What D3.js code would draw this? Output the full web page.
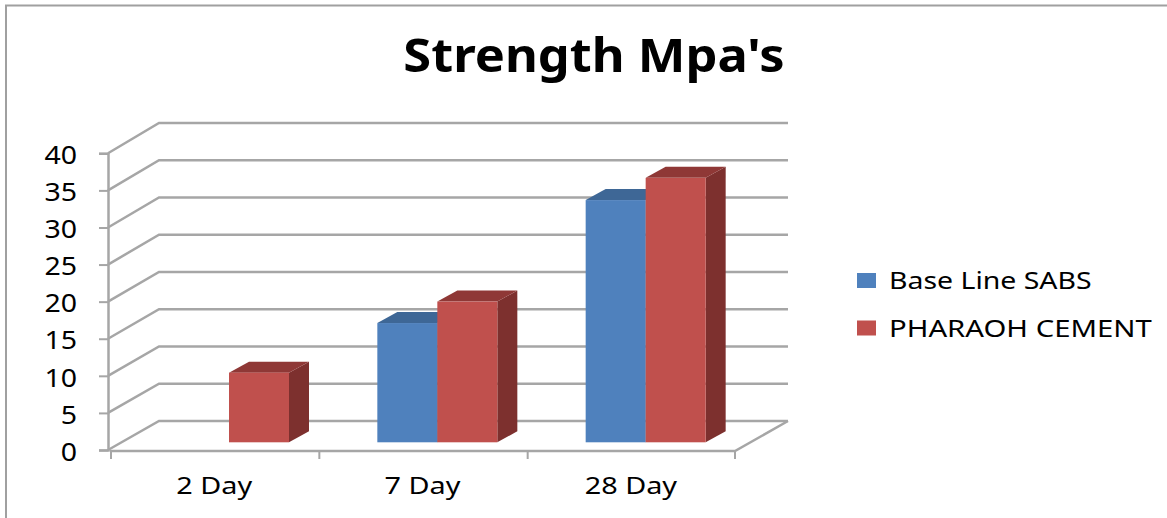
<!DOCTYPE html>
<html>
<head>
<meta charset="utf-8">
<script src="https://d3js.org/d3.v7.min.js"></script>
<style>
  body { margin: 0; background: #fff; }
  svg { display: block; }
  text { font-family: "Noto Sans", sans-serif; fill: #000; }
</style>
</head>
<body>
<div id="chart"></div>
<script>
// Chart data
const categories = ["2 Day", "7 Day", "28 Day"];
const seriesNames = ["Base Line SABS", "PHARAOH CEMENT"];
const baseLine = [null, 16.1, 32.7];
const pharaoh = [9.4, 19.0, 35.7];
const yTicks = [0, 5, 10, 15, 20, 25, 30, 35, 40];

const width = 1167;
const height = 518;

// Colours for face / top / side of each series
const faceColors = ["#4f81bd", "#c0504d"];
const topColors = ["#3e6796", "#8f3836"];
const sideColors = ["#395a84", "#7d302e"];
const gridColor = "#a6a6a6";

// Legend glyphs are stretched a little differently per label
const legendStretch = [1.185, 1.22];

const svg = d3.select("#chart").append("svg")
  .attr("width", width)
  .attr("height", height);

// The source picture has wider glyphs than the installed fonts
function stretch(selection, factor) {
  selection.each(function () {
    d3.select(this)
      .attr("textLength", this.getComputedTextLength() * factor)
      .attr("lengthAdjust", "spacingAndGlyphs");
  });
}

// Chart frame, only top and left edges are visible
svg.append("path")
  .attr("d", "M6,518V5.5H1167")
  .attr("fill", "none")
  .attr("stroke", "#a0a0a0")
  .attr("stroke-width", 2);

// Scales: front wall, back wall and the plane the bars stand on
const x = d3.scaleBand().domain(categories).range([111, 736]);
const xInner = d3.scaleBand().domain(seriesNames).range([58, 178]);
const y = d3.scaleLinear().domain([0, 40]).range([450, 153.3]);
const yBack = d3.scaleLinear().domain([0, 40]).range([421, 123]);
const yBar = d3.scaleLinear().domain([0, 40]).range([442.3, 146]);

const depthX = 20;
const depthY = 11;

// Grid lines: diagonal on the side wall, then across the back wall
const grid = svg.append("g")
  .attr("fill", "none")
  .attr("stroke", gridColor)
  .attr("stroke-width", 2.5);

grid.selectAll("path")
  .data(yTicks)
  .enter()
  .append("path")
  .attr("d", (d) => `M108,${y(d)}L159,${yBack(d)}H788`);

// Floor
grid.append("path")
  .attr("d", `M110,451H735L788,${yBack(0)}`);

// Y axis
const yAxis = svg.append("g")
  .attr("transform", "translate(108,0)")
  .call(d3.axisLeft(y).tickValues(yTicks).tickSize(9).tickPadding(21));
yAxis.select(".domain").attr("stroke", gridColor).attr("stroke-width", 2.5);
yAxis.selectAll("line").attr("stroke", gridColor).attr("stroke-width", 2);
yAxis.selectAll("text")
  .style("font-size", "25px")
  .attr("dy", "0.41em")
  .attr("text-anchor", "end")
  .attr("x", -31)
  .call(stretch, 1.14);

// X axis, labels from the axis and ticks on band edges
const xAxis = svg.append("g")
  .attr("transform", "translate(-1,451)")
  .call(d3.axisBottom(x).tickSize(0).tickPadding(26));
xAxis.select(".domain").remove();
xAxis.selectAll("text")
  .style("font-size", "24px")
  .attr("dy", "0.71em")
  .call(stretch, 1.2);

svg.append("g")
  .selectAll("line")
  .data(categories.concat([null]))
  .enter()
  .append("line")
  .attr("x1", (d) => d === null ? 735 : x(d))
  .attr("x2", (d) => d === null ? 735 : x(d))
  .attr("y1", 451)
  .attr("y2", 459)
  .attr("stroke", gridColor)
  .attr("stroke-width", 2);

// Bars: side and top faces first, then the front
const seriesValues = [baseLine, pharaoh];
seriesValues.forEach((values, s) => {
  const name = seriesNames[s];
  const bars = categories
    .map((c, i) => ({ category: c, value: values[i] }))
    .filter((d) => d.value !== null);

  const g = svg.append("g");
  const left = (d) => x(d.category) + xInner(name);
  const w = xInner.bandwidth();

  g.selectAll(".side")
    .data(bars)
    .enter()
    .append("path")
    .attr("class", "side")
    .attr("fill", sideColors[s])
    .attr("d", (d) => {
      const r = left(d) + w;
      return `M${r},${yBar(d.value)}l${depthX},${-depthY}V${yBar(0) - depthY}l${-depthX},${depthY}Z`;
    });

  g.selectAll(".top")
    .data(bars)
    .enter()
    .append("path")
    .attr("class", "top")
    .attr("fill", topColors[s])
    .attr("d", (d) => `M${left(d)},${yBar(d.value)}l${depthX},${-depthY}h${w}l${-depthX},${depthY}Z`);

  g.selectAll(".front")
    .data(bars)
    .enter()
    .append("rect")
    .attr("class", "front")
    .attr("x", left)
    .attr("y", (d) => yBar(d.value))
    .attr("width", w)
    .attr("height", (d) => yBar(0) - yBar(d.value))
    .attr("fill", faceColors[s]);
});

// Title
svg.append("text")
  .attr("x", 594)
  .attr("y", 72)
  .attr("text-anchor", "middle")
  .style("font-size", "46px")
  .style("font-weight", "bold")
  .text("Strength Mpa's")
  .call(stretch, 1.1);

// Legend
const legend = svg.append("g");
seriesNames.forEach((name, i) => {
  legend.append("rect")
    .attr("x", 857)
    .attr("y", 273 + i * 47.5)
    .attr("width", 19)
    .attr("height", 15)
    .attr("fill", faceColors[i]);

  legend.append("text")
    .attr("x", 889)
    .attr("y", 289 + i * 48)
    .style("font-size", "24px")
    .text(name)
    .call(stretch, legendStretch[i]);
});
</script>
</body>
</html>
